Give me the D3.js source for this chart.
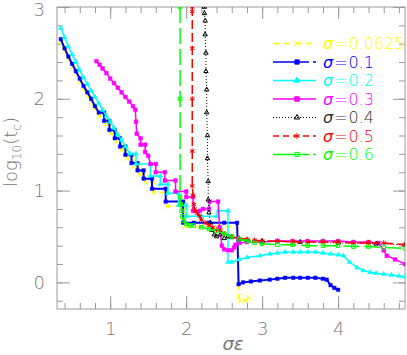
<!DOCTYPE html>
<html>
<head>
<meta charset="utf-8">
<script src="https://cdn.jsdelivr.net/npm/d3@7"></script>
<style>
  body { margin:0; background:#fff; }
  svg { display:block; }
</style>
</head>
<body>
<svg id="chart"></svg>
<script>
// values, one array per sigma
var sigma0625 = [[0.35,2.62],[0.40,2.52],[0.45,2.43],[0.50,2.35],[0.55,2.27],[0.60,2.19],[0.65,2.11],[0.70,2.04],[0.75,1.97],[0.80,1.89],[0.85,1.81],[0.94,1.81],[0.94,1.72],[1.01,1.72],[1.01,1.62],[1.08,1.62],[1.08,1.53],[1.15,1.53],[1.15,1.44],[1.22,1.44],[1.22,1.35],[1.30,1.35],[1.30,1.26],[1.38,1.26],[1.38,1.18],[1.46,1.18],[1.46,1.09],[1.57,1.09],[1.57,0.98],[1.75,0.98],[1.75,0.83],[1.98,0.83],[1.98,0.61],[2.2,0.61],[2.45,0.61],[2.67,0.61],[2.69,-0.15],[2.71,-0.2],[2.78,-0.2],[2.82,-0.17]];
var sigma01 = [[0.35,2.65],[0.40,2.55],[0.45,2.46],[0.50,2.38],[0.55,2.30],[0.60,2.22],[0.65,2.14],[0.70,2.07],[0.75,2.00],[0.80,1.92],[0.85,1.85],[0.92,1.85],[0.92,1.76],[0.99,1.76],[0.99,1.66],[1.06,1.66],[1.06,1.57],[1.13,1.57],[1.13,1.48],[1.20,1.48],[1.20,1.39],[1.28,1.39],[1.28,1.30],[1.36,1.30],[1.36,1.22],[1.44,1.22],[1.44,1.13],[1.55,1.13],[1.55,1.02],[1.73,1.02],[1.73,0.88],[1.96,0.88],[1.96,0.65],[2.1,0.65],[2.3,0.65],[2.5,0.65],[2.67,0.65],[2.69,-0.02],[2.75,0.0],[2.85,0.01],[2.97,0.02],[3.1,0.03],[3.2,0.04],[3.3,0.05],[3.41,0.05],[3.5,0.05],[3.6,0.05],[3.7,0.05],[3.8,0.04],[3.85,0.03],[3.9,-0.03],[3.95,-0.06],[4.0,-0.08]];
var sigma02 = [[0.35,2.77],[0.40,2.67],[0.45,2.57],[0.50,2.48],[0.55,2.40],[0.60,2.31],[0.65,2.23],[0.70,2.16],[0.75,2.09],[0.80,2.02],[0.85,1.95],[0.90,1.88],[0.95,1.81],[1.00,1.75],[1.05,1.68],[1.10,1.61],[1.15,1.55],[1.20,1.48],[1.26,1.40],[1.34,1.40],[1.34,1.29],[1.53,1.29],[1.53,1.16],[1.66,1.16],[1.66,1.07],[1.76,1.07],[1.76,0.97],[1.90,0.97],[1.90,0.84],[2.00,0.84],[2.00,0.72],[2.2,0.72],[2.40,0.72],[2.42,0.78],[2.55,0.78],[2.55,0.22],[2.6,0.22],[2.7,0.25],[2.8,0.27],[2.97,0.29],[3.1,0.31],[3.2,0.32],[3.3,0.33],[3.41,0.33],[3.5,0.33],[3.6,0.33],[3.7,0.33],[3.8,0.32],[3.9,0.31],[4.0,0.30],[4.07,0.29],[4.15,0.22],[4.25,0.16],[4.33,0.13],[4.42,0.11],[4.5,0.10],[4.6,0.09],[4.7,0.08],[4.8,0.07],[4.88,0.06]];
var sigma03 = [[0.82,2.41],[0.86,2.37],[0.90,2.33],[0.95,2.28],[1.00,2.22],[1.05,2.17],[1.10,2.12],[1.15,2.07],[1.20,2.02],[1.25,1.97],[1.30,1.92],[1.33,1.88],[1.34,1.75],[1.35,1.62],[1.40,1.57],[1.40,1.50],[1.46,1.50],[1.46,1.42],[1.50,1.38],[1.53,1.29],[1.60,1.29],[1.60,1.20],[1.72,1.20],[1.72,1.11],[1.86,1.11],[1.86,0.99],[2.00,0.99],[2.00,0.93],[2.09,0.93],[2.09,0.78],[2.18,0.78],[2.22,0.80],[2.30,0.80],[2.31,0.88],[2.42,0.88],[2.44,0.60],[2.47,0.40],[2.50,0.36],[2.55,0.35],[2.60,0.35],[2.63,0.38],[2.65,0.41],[2.70,0.43],[2.8,0.44],[3.0,0.44],[3.2,0.45],[3.4,0.45],[3.6,0.45],[3.8,0.45],[4.0,0.45],[4.2,0.44],[4.4,0.44],[4.53,0.43],[4.60,0.35],[4.64,0.29],[4.75,0.25],[4.88,0.20]];
var sigma04 = [[2.24,3.0],[2.24,2.93],[2.25,2.85],[2.25,2.70],[2.26,2.50],[2.26,2.30],[2.27,2.10],[2.27,1.85],[2.28,1.60],[2.28,1.35],[2.29,1.10],[2.29,0.90],[2.30,0.76],[2.32,0.65],[2.34,0.57],[2.37,0.52],[2.40,0.50],[2.45,0.52],[2.50,0.48],[2.55,0.50],[2.60,0.49],[2.70,0.47],[2.80,0.46],[3.0,0.45],[3.5,0.44],[4.0,0.43],[4.5,0.42],[4.88,0.41]];
var sigma05 = [[2.08,3.0],[2.08,2.95],[2.08,2.55],[2.08,2.0],[2.08,1.43],[2.08,1.05],[2.09,0.95],[2.10,0.85],[2.11,0.80],[2.13,0.77],[2.15,0.75],[2.18,0.72],[2.20,0.68],[2.25,0.65],[2.30,0.62],[2.35,0.60],[2.40,0.57],[2.45,0.56],[2.50,0.53],[2.60,0.50],[2.70,0.48],[2.80,0.47],[2.90,0.46],[3.0,0.45],[3.2,0.45],[3.4,0.44],[3.6,0.44],[3.8,0.44],[4.0,0.44],[4.2,0.43],[4.4,0.43],[4.6,0.43],[4.88,0.41]];
var sigma06 = [[1.92,3.0],[1.92,2.0],[1.92,0.93],[1.93,0.85],[1.94,0.78],[1.95,0.72],[1.97,0.67],[2.00,0.64],[2.05,0.62],[2.10,0.62],[2.20,0.60],[2.30,0.58],[2.40,0.56],[2.50,0.53],[2.60,0.50],[2.70,0.47],[2.80,0.45],[2.90,0.43],[3.0,0.42],[3.2,0.41],[3.4,0.41],[3.6,0.40],[3.8,0.40],[4.0,0.40],[4.2,0.39],[4.4,0.39],[4.6,0.38],[4.88,0.37]];

var legendLabels = ["0.0625","0.1","0.2","0.3","0.4","0.5","0.6"];
var xTicks = [1,2,3,4];
var yTicks = [0,1,2,3];

var series = [
    {values:sigma0625, label:legendLabels[0], color:"#ffff00", dash:"6,4", legendDash:"6,5", width:1.5, symbol:d3.symbolTimes, size:16, filled:false},
    {values:sigma01, label:legendLabels[1], color:"#0000ff", dash:null, legendDash:"36,4,4,20", width:2, symbol:d3.symbolSquare, size:12, filled:true},
    {values:sigma02, label:legendLabels[2], color:"#00ffff", dash:null, legendDash:null, width:1.5, symbol:d3.symbolTriangle, size:10, filled:true},
    {values:sigma03, label:legendLabels[3], color:"#ff00ff", dash:null, legendDash:null, width:1.5, symbol:d3.symbolSquare, size:14, filled:true},
    {values:sigma04, label:legendLabels[4], color:"#000000", dash:"1,2", legendDash:"1,2", width:1, symbol:d3.symbolTriangle2, size:14, filled:false},
    {values:sigma05, label:legendLabels[5], color:"#ff0000", dash:"9,4", legendDash:"6,4", width:1.5, symbol:d3.symbolAsterisk, size:20, filled:false},
    {values:sigma06, label:legendLabels[6], color:"#00ff00", dash:"16,5", legendDash:"36,4,4,20", width:1.5, symbol:d3.symbolSquare2, size:16, filled:false}
];

var screen = {width:407, height:355};
var plot = {left:57, top:7, right:405, bottom:309};

var xScale = d3.scaleLinear()
    .domain([0.3,4.88])
    .range([plot.left,plot.right]);
var yScale = d3.scaleLinear()
    .domain([-0.29,3.0])
    .range([plot.bottom,plot.top]);

var svg = d3.select("#chart")
    .attr("width",screen.width)
    .attr("height",screen.height);

svg.append("clipPath")
    .attr("id","plotclip")
    .append("rect")
    .attr("x",plot.left)
    .attr("y",plot.top)
    .attr("width",plot.right-plot.left)
    .attr("height",plot.bottom-plot.top);

var fontFamily = "'DejaVu Sans', sans-serif";
var textGray = "#777";

var drawAxes = function()
{
    var axes = svg.append("g").classed("axes",true).attr("color","#9a9a9a");
    var minorX = xScale.ticks(23);
    var minorY = yScale.ticks(16);

    var addAxis = function(axis, transform)
    {
        var g = axes.append("g").attr("transform",transform).call(axis);
        g.select(".domain").remove();
        return g;
    }

    addAxis(d3.axisBottom(xScale).tickValues(minorX).tickSizeInner(-6).tickSizeOuter(0).tickFormat(""),
        "translate(0,"+plot.bottom+")");
    addAxis(d3.axisTop(xScale).tickValues(minorX).tickSizeInner(-6).tickSizeOuter(0).tickFormat(""),
        "translate(0,"+plot.top+")");
    addAxis(d3.axisTop(xScale).tickValues(xTicks).tickSizeInner(-12).tickSizeOuter(0).tickFormat(""),
        "translate(0,"+plot.top+")");
    addAxis(d3.axisLeft(yScale).tickValues(minorY).tickSizeInner(-6).tickSizeOuter(0).tickFormat(""),
        "translate("+plot.left+",0)");
    addAxis(d3.axisRight(yScale).tickValues(minorY).tickSizeInner(-6).tickSizeOuter(0).tickFormat(""),
        "translate("+plot.right+",0)");
    addAxis(d3.axisRight(yScale).tickValues(yTicks).tickSizeInner(-12).tickSizeOuter(0).tickFormat(""),
        "translate("+plot.right+",0)");

    var xg = addAxis(d3.axisBottom(xScale).tickValues(xTicks).tickSizeInner(-13).tickSizeOuter(0)
            .tickPadding(13).tickFormat(d3.format("d")),
        "translate(0,"+plot.bottom+")");
    var yg = addAxis(d3.axisLeft(yScale).tickValues(yTicks).tickSizeInner(-13).tickSizeOuter(0)
            .tickPadding(12).tickFormat(d3.format("d")),
        "translate("+plot.left+",0)");

    [xg,yg].forEach(function(g)
    {
        g.attr("font-family",fontFamily).attr("font-size",18);
        g.selectAll("text").attr("fill",textGray).attr("font-weight",200);
    });
    // top label sits a touch lower so it stays inside the picture
    yg.selectAll("text").filter(function(d){return d==3}).attr("dy","0.45em");

    axes.append("rect")
        .attr("x",plot.left)
        .attr("y",plot.top)
        .attr("width",plot.right-plot.left)
        .attr("height",plot.bottom-plot.top)
        .attr("fill","none")
        .attr("stroke","#9a9a9a")
        .attr("stroke-width",1);
}

var drawSeries = function()
{
    var lineGenerator = d3.line()
        .x(function(d){return xScale(d[0])})
        .y(function(d){return yScale(d[1])});

    var groups = svg.append("g")
        .attr("clip-path","url(#plotclip)")
        .selectAll("g")
        .data(series)
        .enter()
        .append("g");

    groups.append("path")
        .attr("d",function(s){return lineGenerator(s.values)})
        .attr("fill","none")
        .attr("stroke",function(s){return s.color})
        .attr("stroke-width",function(s){return s.width})
        .attr("stroke-dasharray",function(s){return s.dash});

    groups.each(function(s)
    {
        d3.select(this).selectAll(".mark")
            .data(s.values)
            .enter()
            .append("path")
            .classed("mark",true)
            .attr("transform",function(d){return "translate("+xScale(d[0])+","+yScale(d[1])+")"})
            .attr("d",d3.symbol().type(s.symbol).size(s.size))
            .attr("fill",s.filled ? s.color : "none")
            .attr("stroke",s.color)
            .attr("stroke-width",s.filled ? 0.5 : 1);
    });
}

var drawLegend = function()
{
    var legend = svg.append("g").classed("legend",true);
    var rows = legend.selectAll("g")
        .data(series)
        .enter()
        .append("g")
        .attr("transform",function(s,i){return "translate(0,"+(43.5+i*18.5)+")"});

    rows.append("line")
        .attr("x1",273).attr("x2",316)
        .attr("y1",0).attr("y2",0)
        .attr("stroke",function(s){return s.color})
        .attr("stroke-width",function(s){return Math.min(s.width,1.5)})
        .attr("stroke-dasharray",function(s){return s.legendDash});

    rows.append("path")
        .attr("transform","translate(297,0)")
        .attr("d",function(s){return d3.symbol().type(s.symbol).size(s.size+6)()})
        .attr("fill",function(s){return s.filled ? s.color : "none"})
        .attr("stroke",function(s){return s.color})
        .attr("stroke-width",1);

    var txt = rows.append("text")
        .attr("x",323)
        .attr("y",0)
        .attr("dy","0.36em")
        .attr("font-family",fontFamily)
        .attr("font-size",16)
        .attr("font-weight",200)
        .attr("fill",function(s){return s.color=="#000000" ? "#333" : s.color});
    txt.append("tspan").attr("font-style","italic").text("σ");
    txt.append("tspan").text("=").attr("dx",1);
    txt.append("tspan").text(function(s){return s.label}).attr("dx",1);
}

var drawLabels = function()
{
    var labels = svg.append("g").classed("labels",true)
        .attr("font-family",fontFamily)
        .attr("font-weight",200)
        .attr("fill",textGray);

    labels.append("text")
        .attr("x",(plot.left+plot.right)/2+2)
        .attr("y",350)
        .attr("text-anchor","middle")
        .attr("font-size",18)
        .attr("font-style","italic")
        .text("σε");

    var ylab = labels.append("text")
        .attr("transform","translate(17,"+152+") rotate(-90)")
        .attr("text-anchor","middle")
        .attr("font-size",18);
    ylab.append("tspan").text("log");
    ylab.append("tspan").text("10").attr("font-size",12).attr("dy",4);
    ylab.append("tspan").text("(t").attr("dy",-4);
    ylab.append("tspan").text("c").attr("font-size",12).attr("dy",4);
    ylab.append("tspan").text(")").attr("dy",-4);
}

drawAxes();
drawSeries();
drawLegend();
drawLabels();
</script>
</body>
</html>
